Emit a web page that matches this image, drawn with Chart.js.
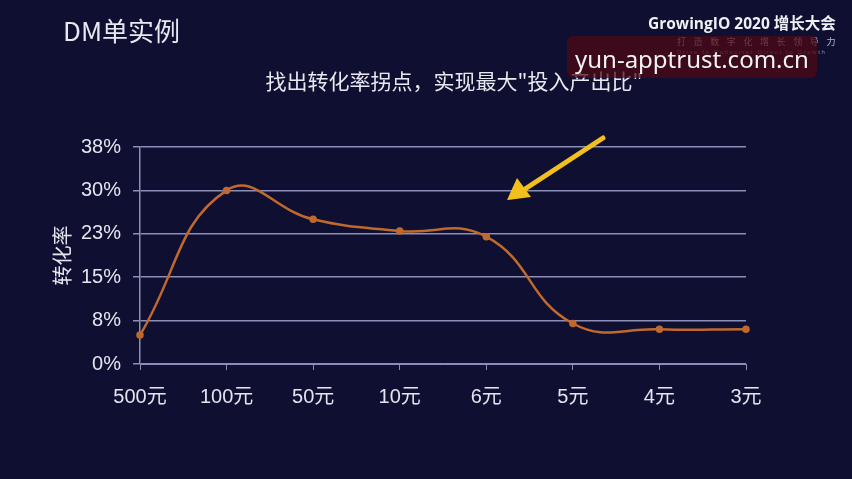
<!DOCTYPE html>
<html><head><meta charset="utf-8">
<script src="https://cdn.jsdelivr.net/npm/chart.js@4"></script>
<style>
html,body{margin:0;padding:0;background:#0e0f31;}
#wrap{position:relative;width:852px;height:479px;overflow:hidden;background:#0e0f31;font-family:"Liberation Sans","Noto Sans CJK SC",sans-serif;color:#e4e4ee;}
#c{position:absolute;left:0;top:0;}
.t{position:absolute;white-space:nowrap;}
#title{left:63px;top:11px;font-size:26px;font-family:"Noto Sans CJK SC",sans-serif;color:#e8e8f0;}
#sub{left:0;width:908px;text-align:center;top:65px;font-size:21px;font-family:"Noto Sans CJK SC",sans-serif;color:#e8e8f0;}
#logo1{left:648px;top:11px;font-size:15.5px;font-weight:bold;font-family:"Open Sans","Noto Sans CJK SC",sans-serif;color:#f0f0f4;}
#logo2{left:677px;top:35px;font-size:9px;letter-spacing:7.6px;font-family:"Noto Sans CJK SC",sans-serif;color:#b8b8c8;}
#logo3{left:677px;top:49px;font-size:6px;letter-spacing:1.6px;color:#8a8aa0;}
#wm{left:567px;top:36px;width:250px;height:42px;border-radius:6px;background:rgba(80,8,20,0.72);}
#wmt{left:575px;top:42px;font-size:24px;font-family:"Noto Sans","DejaVu Sans",sans-serif;color:#f2f2f2;}
svg{position:absolute;left:0;top:0;}
</style></head>
<body>
<div id="wrap">
<canvas id="c" width="852" height="479"></canvas>
<div class="t" id="title">DM单实例</div>
<div class="t" id="sub">找出转化率拐点，实现最大"投入产出比"</div>
<div class="t" id="logo1">GrowingIO 2020 增长大会</div>
<div class="t" id="logo2">打造数字化增长领导力</div>
<div class="t" id="logo3">Drive to Consumer Direct to Growth</div>
<div class="t" id="wm"></div>
<div class="t" id="wmt">yun-apptrust.com.cn</div>
<svg width="852" height="479">
  <line x1="603" y1="138" x2="525" y2="189" stroke="#f2c01c" stroke-width="5" stroke-linecap="round"/>
  <polygon points="507,200 517,178 531,197" fill="#f2c01c"/>
</svg>
</div>
<script>
const categories = ['500元','100元','50元','10元','6元','5元','4元','3元'];
const conversion = [5.0, 30.0, 25.0, 23.0, 22.0, 7.0, 6.0, 6.0];
const yTickLabels = ['0%','8%','15%','23%','30%','38%'];
const yAxisTitle = '转化率';

const gridColor = '#8b8eb6';
const textColor = '#e4e4ee';
const lineColor = '#c0692c';

new Chart(document.getElementById('c'), {
  type: 'line',
  data: {
    labels: categories,
    datasets: [{
      data: conversion,
      borderColor: lineColor,
      backgroundColor: lineColor,
      borderWidth: 2.5,
      pointRadius: 2.5,
      pointHoverRadius: 3,
      tension: 0.45,
      fill: false
    }]
  },
  options: {
    responsive: false,
    animation: false,
    layout: { padding: { left: 0, top: 147, right: 106, bottom: 62 } },
    plugins: { legend: { display: false }, tooltip: { enabled: false } },
    scales: {
      x: {
        offset: false,
        grid: { display: true, drawOnChartArea: false, drawTicks: true, tickLength: 6, color: gridColor },
        border: { display: true, color: gridColor, width: 1 },
        ticks: { color: textColor, padding: 15, maxRotation: 0, autoSkip: false,
                 font: { size: 20, family: '"Liberation Sans","Noto Sans CJK SC",sans-serif' } },
        afterFit: s => { s.height = 53; }
      },
      y: {
        min: 0, max: 37.5,
        ticks: { stepSize: 7.5, color: textColor, padding: 12,
                 font: { size: 20, family: '"Liberation Sans","Noto Sans CJK SC",sans-serif' },
                 callback: (v, i) => yTickLabels[i] },
        grid: { color: gridColor, lineWidth: 1.5, tickLength: 7 },
        border: { display: true, color: gridColor, width: 1.5 },
        title: { display: true, text: yAxisTitle, color: textColor, padding: { top: 50, bottom: 0 },
                 font: { size: 20, family: '"Noto Sans CJK SC",sans-serif' } },
        afterFit: s => { s.width = 140; }
      }
    }
  }
});
</script>
</body></html>
